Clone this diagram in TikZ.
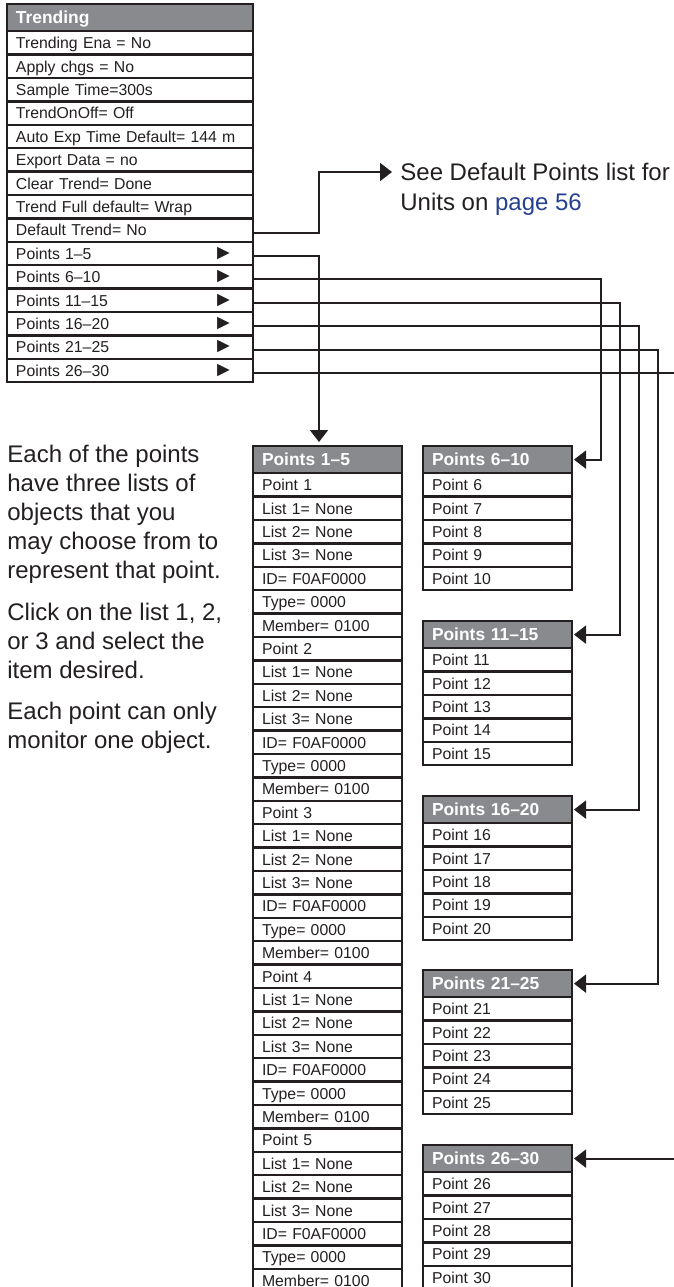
\documentclass[tikz,border=0pt]{standalone}
\usepackage{fontspec}
\setmainfont{Liberation Sans}
\usetikzlibrary{positioning,arrows.meta}

\definecolor{ink}{RGB}{35,31,32}
\definecolor{headgray}{RGB}{137,138,141}
\definecolor{pagelink}{RGB}{37,64,143}
\newcommand{\submenu}{\hfill{\fontsize{10.5pt}{9pt}\selectfont ►}\hspace*{5pt}}

\begin{document}
\begin{tikzpicture}[x=0.5pt,y=-0.5pt,node distance=0pt,
    menu head/.style={draw=ink,fill=headgray,line width=1.2pt,outer sep=0pt,inner xsep=4.5pt,inner ysep=0pt,minimum height=13.6pt,text width=114pt,align=left,text height=6.3pt,text depth=0pt,text=white,font=\bfseries\fontsize{8.7pt}{10pt}\selectfont},
    menu row/.style={draw=ink,fill=white,line width=1.2pt,outer sep=0pt,inner xsep=4.5pt,inner ysep=0pt,minimum height=11.7pt,text width=114pt,align=left,text height=5.7pt,text depth=0pt,text=ink,font=\fontsize{7.9pt}{9pt}\selectfont},
    list head/.style={menu head,text width=65.5pt},
    list row/.style={menu row,text width=65.5pt},
    note/.style={anchor=west,inner sep=0pt,text height=8.6pt,text depth=0pt,text=ink,font=\fontsize{12pt}{14.5pt}\selectfont},
    info/.style={anchor=north west,inner sep=0pt,align=left,text=ink,font=\fontsize{12pt}{14.5pt}\selectfont},
    link/.style={draw=ink,line width=1pt,-{Triangle[length=6pt,width=9pt]}}]
    \useasboundingbox (0,0) rectangle (674,1287);
    \clip (0,0) rectangle (674,1287);

    % trending menu
    \node[menu head,anchor=north west] (tr) at (7,4) {Trending};
    \node[menu row] (tr1) [below=of tr] {Trending Ena = No};
    \node[menu row] (tr2) [below=of tr1] {Apply chgs = No};
    \node[menu row] (tr3) [below=of tr2] {Sample Time=300s};
    \node[menu row] (tr4) [below=of tr3] {TrendOnOff= Off};
    \node[menu row] (tr5) [below=of tr4] {Auto Exp Time Default= 144 m};
    \node[menu row] (tr6) [below=of tr5] {Export Data = no};
    \node[menu row] (tr7) [below=of tr6] {Clear Trend= Done};
    \node[menu row] (tr8) [below=of tr7] {Trend Full default= Wrap};
    \node[menu row] (tr9) [below=of tr8] {Default Trend= No};
    \node[menu row] (tr10) [below=of tr9] {Points 1–5\submenu};
    \node[menu row] (tr11) [below=of tr10] {Points 6–10\submenu};
    \node[menu row] (tr12) [below=of tr11] {Points 11–15\submenu};
    \node[menu row] (tr13) [below=of tr12] {Points 16–20\submenu};
    \node[menu row] (tr14) [below=of tr13] {Points 21–25\submenu};
    \node[menu row] (tr15) [below=of tr14] {Points 26–30\submenu};

    \node[note] (see) at (400,172) {See Default Points list for};
    \node[note] (units) at (400,202) {Units on \textcolor{pagelink}{page 56}};

    \node[info] (info) at (7,445) {Each of the points\\have three lists of\\objects that you\\may choose from to\\represent that point.\\[6.25pt]
        Click on the list 1, 2,\\or 3 and select the\\item desired.\\[6.25pt]
        Each point can only\\monitor one object.};

    % points 1-5
    \node[list head,anchor=north west] (p1) at (253,446) {Points 1–5};
    \node[list row] (p1-1) [below=of p1] {Point 1};
    \node[list row] (p1-2) [below=of p1-1] {List 1= None};
    \node[list row] (p1-3) [below=of p1-2] {List 2= None};
    \node[list row] (p1-4) [below=of p1-3] {List 3= None};
    \node[list row] (p1-5) [below=of p1-4] {ID= F0AF0000};
    \node[list row] (p1-6) [below=of p1-5] {Type= 0000};
    \node[list row] (p1-7) [below=of p1-6] {Member= 0100};
    \node[list row] (p1-8) [below=of p1-7] {Point 2};
    \node[list row] (p1-9) [below=of p1-8] {List 1= None};
    \node[list row] (p1-10) [below=of p1-9] {List 2= None};
    \node[list row] (p1-11) [below=of p1-10] {List 3= None};
    \node[list row] (p1-12) [below=of p1-11] {ID= F0AF0000};
    \node[list row] (p1-13) [below=of p1-12] {Type= 0000};
    \node[list row] (p1-14) [below=of p1-13] {Member= 0100};
    \node[list row] (p1-15) [below=of p1-14] {Point 3};
    \node[list row] (p1-16) [below=of p1-15] {List 1= None};
    \node[list row] (p1-17) [below=of p1-16] {List 2= None};
    \node[list row] (p1-18) [below=of p1-17] {List 3= None};
    \node[list row] (p1-19) [below=of p1-18] {ID= F0AF0000};
    \node[list row] (p1-20) [below=of p1-19] {Type= 0000};
    \node[list row] (p1-21) [below=of p1-20] {Member= 0100};
    \node[list row] (p1-22) [below=of p1-21] {Point 4};
    \node[list row] (p1-23) [below=of p1-22] {List 1= None};
    \node[list row] (p1-24) [below=of p1-23] {List 2= None};
    \node[list row] (p1-25) [below=of p1-24] {List 3= None};
    \node[list row] (p1-26) [below=of p1-25] {ID= F0AF0000};
    \node[list row] (p1-27) [below=of p1-26] {Type= 0000};
    \node[list row] (p1-28) [below=of p1-27] {Member= 0100};
    \node[list row] (p1-29) [below=of p1-28] {Point 5};
    \node[list row] (p1-30) [below=of p1-29] {List 1= None};
    \node[list row] (p1-31) [below=of p1-30] {List 2= None};
    \node[list row] (p1-32) [below=of p1-31] {List 3= None};
    \node[list row] (p1-33) [below=of p1-32] {ID= F0AF0000};
    \node[list row] (p1-34) [below=of p1-33] {Type= 0000};
    \node[list row] (p1-35) [below=of p1-34] {Member= 0100};

    % points 6-30
    \node[list head,anchor=north west] (p2) at (423,446) {Points 6–10};
    \node[list row] (p2-1) [below=of p2] {Point 6};
    \node[list row] (p2-2) [below=of p2-1] {Point 7};
    \node[list row] (p2-3) [below=of p2-2] {Point 8};
    \node[list row] (p2-4) [below=of p2-3] {Point 9};
    \node[list row] (p2-5) [below=of p2-4] {Point 10};

    \node[list head,anchor=north west] (p3) at (423,621) {Points 11–15};
    \node[list row] (p3-1) [below=of p3] {Point 11};
    \node[list row] (p3-2) [below=of p3-1] {Point 12};
    \node[list row] (p3-3) [below=of p3-2] {Point 13};
    \node[list row] (p3-4) [below=of p3-3] {Point 14};
    \node[list row] (p3-5) [below=of p3-4] {Point 15};

    \node[list head,anchor=north west] (p4) at (423,796) {Points 16–20};
    \node[list row] (p4-1) [below=of p4] {Point 16};
    \node[list row] (p4-2) [below=of p4-1] {Point 17};
    \node[list row] (p4-3) [below=of p4-2] {Point 18};
    \node[list row] (p4-4) [below=of p4-3] {Point 19};
    \node[list row] (p4-5) [below=of p4-4] {Point 20};

    \node[list head,anchor=north west] (p5) at (423,970) {Points 21–25};
    \node[list row] (p5-1) [below=of p5] {Point 21};
    \node[list row] (p5-2) [below=of p5-1] {Point 22};
    \node[list row] (p5-3) [below=of p5-2] {Point 23};
    \node[list row] (p5-4) [below=of p5-3] {Point 24};
    \node[list row] (p5-5) [below=of p5-4] {Point 25};

    \node[list head,anchor=north west] (p6) at (423,1145) {Points 26–30};
    \node[list row] (p6-1) [below=of p6] {Point 26};
    \node[list row] (p6-2) [below=of p6-1] {Point 27};
    \node[list row] (p6-3) [below=of p6-2] {Point 28};
    \node[list row] (p6-4) [below=of p6-3] {Point 29};
    \node[list row] (p6-5) [below=of p6-4] {Point 30};

    % bus lines
    \coordinate (b1) at (319,0);
    \coordinate (b2) at (601,0);
    \coordinate (b3) at (620,0);
    \coordinate (b4) at (639,0);
    \coordinate (b5) at (658,0);
    \coordinate (b6) at (677,0);

    \draw[link,shorten >=4pt] ([yshift=-1.2pt]tr9.east) -| (b1 |- see.west) -- (see.west);
    \draw[link,shorten >=2pt] ([yshift=-1.2pt]tr10.east) -| (b1 |- p1.north);
    \draw[link,shorten >=1pt] ([yshift=-1.2pt]tr11.east) -| (b2 |- p2.east) -- (p2.east);
    \draw[link,shorten >=1pt] ([yshift=-1.2pt]tr12.east) -| (b3 |- p3.east) -- (p3.east);
    \draw[link,shorten >=1pt] ([yshift=-1.2pt]tr13.east) -| (b4 |- p4.east) -- (p4.east);
    \draw[link,shorten >=1pt] ([yshift=-1.2pt]tr14.east) -| (b5 |- p5.east) -- (p5.east);
    \draw[link,shorten >=1pt] ([yshift=-1.2pt]tr15.east) -| (b6 |- p6.east) -- (p6.east);
\end{tikzpicture}
\end{document}
